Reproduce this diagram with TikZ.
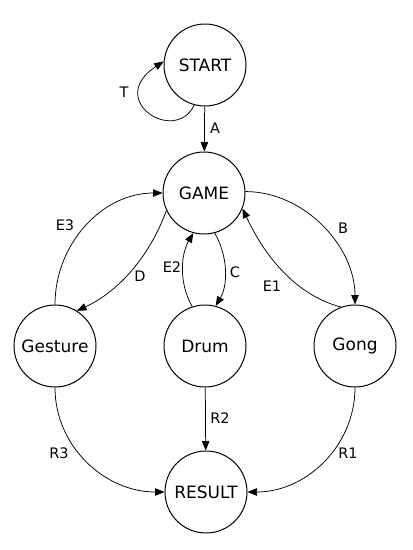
\documentclass[tikz,border=0pt]{standalone}
\usepackage{fontspec}
\setmainfont{DejaVu Sans}
\usetikzlibrary{arrows.meta}
\begin{document}
\begin{tikzpicture}[x=1pt,y=1pt,
  state/.style={circle,draw,line width=1pt,minimum size=82pt,inner sep=0pt,font=\fontsize{17}{20}\selectfont},
  lbl/.style={font=\fontsize{14.5}{17}\selectfont,inner sep=0pt},
  conn/.style={line width=0.75pt,-{Triangle[length=9.5pt,width=7.5pt]}}]
\useasboundingbox (0,0) rectangle (413,-550);
\node[state] (S) at (205,-65) {START};
\node[state] (G) at (204,-193) {GAME};
\node[state] (Ge) at (55,-346) {Gesture};
\node[state] (D) at (205,-346) {Drum};
\node[state] (Go) at (355,-346) {Gong};
\node[state] (R) at (206,-492) {RESULT};

\coordinate (c1) at (175,-145);
\coordinate (c2) at (105,-100);
\draw[conn] (S.255) .. controls (c1) and (c2) .. (S.175);
\draw[conn] (S) -- (G);
\draw[conn] (G.2) to[out=0,in=90,looseness=0.95] (Go.north);
\draw[conn] (Go.110) to[out=165,in=-65,looseness=0.9] (G.-22);
\draw[conn] (G.-75) to[out=-60,in=60,looseness=0.9] (D.75);
\draw[conn] (D.108) to[out=120,in=-120,looseness=0.9] (G.-105);
\draw[conn] (G.205) to[out=-110,in=25,looseness=0.9] (Ge.58);
\draw[conn] (Ge.north) to[out=90,in=180,looseness=1] (G.west);
\draw[conn] (D) -- (R);
\draw[conn] (Ge.south) to[out=-90,in=180,looseness=1] (R.west);
\draw[conn] (Go.south) to[out=-90,in=0,looseness=1] (R.east);

\node[lbl] (lT) at (124,-92) {T};
\node[lbl] (lA) at (215,-128) {A};
\node[lbl] (lB) at (343,-228) {B};
\node[lbl] (lE3) at (65,-225) {E3};
\node[lbl] (lD) at (140,-276) {D};
\node[lbl] (lE2) at (172,-267) {E2};
\node[lbl] (lC) at (235,-272) {C};
\node[lbl] (lE1) at (272,-286) {E1};
\node[lbl] (lR2) at (220,-418) {R2};
\node[lbl] (lR3) at (59,-453) {R3};
\node[lbl] (lR1) at (348,-453) {R1};
\end{tikzpicture}
\end{document}
